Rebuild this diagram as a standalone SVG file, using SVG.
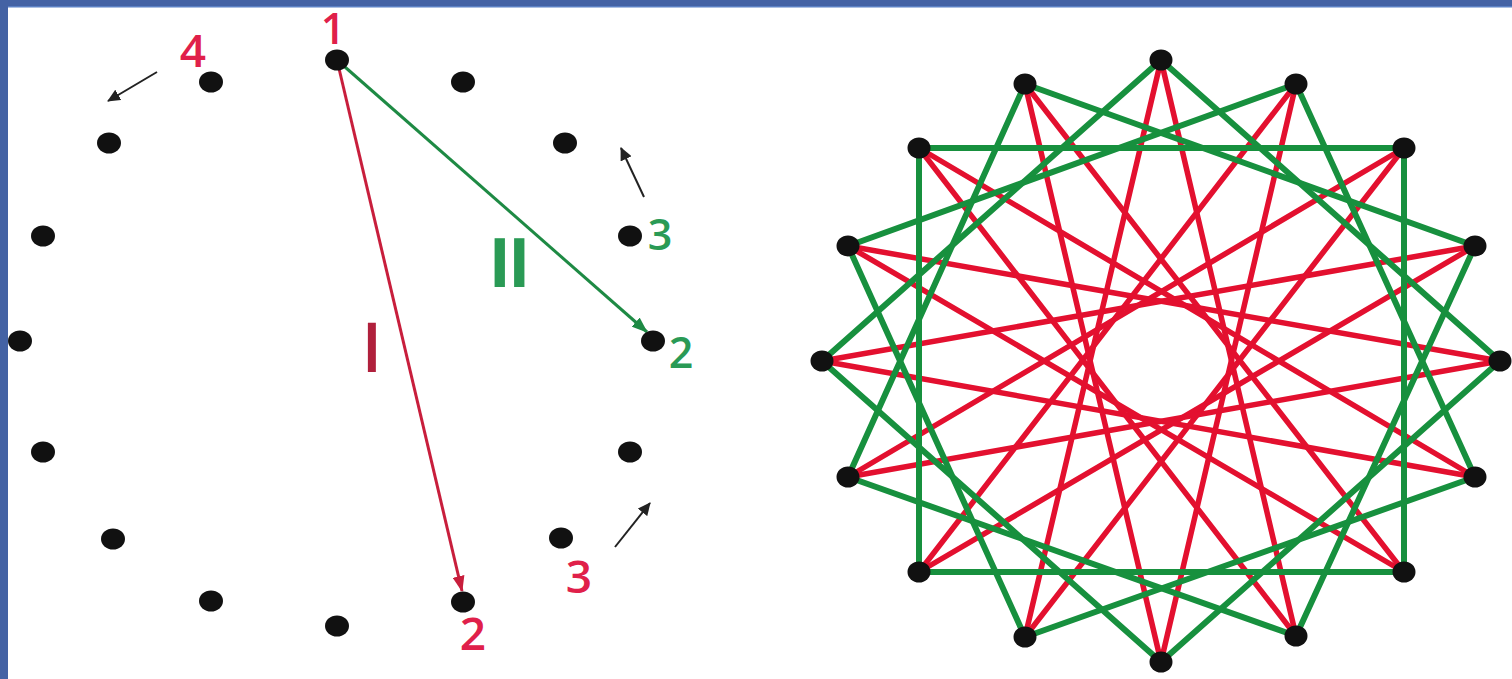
<svg xmlns="http://www.w3.org/2000/svg" width="1512" height="679" viewBox="0 0 1512 679">
<style>
.dot{fill:#111;}
.red{stroke:#e3102f;stroke-width:5.5;fill:none;stroke-linecap:round;}
.grn{stroke:#17903e;stroke-width:6;fill:none;stroke-linecap:round;stroke-linejoin:round;}
.lbl{font-family:"Open Sans","DejaVu Sans",sans-serif;font-weight:600;}
.r{fill:#e0204a;}
.g{fill:#2a9a55;}
.blk{stroke:#222;stroke-width:2;fill:none;}
</style>
<defs>
<marker id="ahBlk" markerUnits="userSpaceOnUse" markerWidth="14" markerHeight="12" refX="12" refY="6" orient="auto"><path d="M0,0 L13,6 L0,12 Z" fill="#222"/></marker>
<marker id="ahRed" markerUnits="userSpaceOnUse" markerWidth="16" markerHeight="12" refX="15" refY="6" orient="auto"><path d="M0,0 L16,6 L0,12 Z" fill="#c81e3c"/></marker>
<marker id="ahGrn" markerUnits="userSpaceOnUse" markerWidth="16" markerHeight="12" refX="15" refY="6" orient="auto"><path d="M0,0 L16,6 L0,12 Z" fill="#1e8a44"/></marker>
</defs>
<rect x="0" y="0" width="1512" height="679" fill="#fff"/>
<rect x="0" y="0" width="1512" height="6" fill="#4462a4"/>
<rect x="0" y="6" width="1512" height="1.5" fill="#5b80c4"/>
<rect x="0" y="0" width="8" height="679" fill="#4462a4"/>

<!-- Left diagram connectors -->
<g id="left-connectors">
<line x1="337" y1="60" x2="462" y2="591" stroke="#c81e3c" stroke-width="3" marker-end="url(#ahRed)"/>
<line x1="337" y1="60" x2="647" y2="332" stroke="#1e8a44" stroke-width="3" marker-end="url(#ahGrn)"/>
<line class="blk" x1="157" y1="72" x2="108" y2="101" marker-end="url(#ahBlk)"/>
<line class="blk" x1="644" y1="197" x2="621" y2="148" marker-end="url(#ahBlk)"/>
<line class="blk" x1="615" y1="547" x2="650" y2="503" marker-end="url(#ahBlk)"/>
</g>

<!-- Left diagram dots -->
<g id="left-dots" class="dot">
<ellipse id="L0" cx="337" cy="60" rx="12" ry="10.5"/>
<ellipse id="L1" cx="463" cy="82" rx="12" ry="10.5"/>
<ellipse id="L2" cx="565" cy="143" rx="12" ry="10.5"/>
<ellipse id="L3" cx="630" cy="236" rx="12" ry="10.5"/>
<ellipse id="L4" cx="653" cy="341" rx="12" ry="10.5"/>
<ellipse id="L5" cx="630" cy="452" rx="12" ry="10.5"/>
<ellipse id="L6" cx="561" cy="538" rx="12" ry="10.5"/>
<ellipse id="L7" cx="463" cy="602" rx="12" ry="10.5"/>
<ellipse id="L8" cx="337" cy="626" rx="12" ry="10.5"/>
<ellipse id="L9" cx="211" cy="601" rx="12" ry="10.5"/>
<ellipse id="L10" cx="113" cy="539" rx="12" ry="10.5"/>
<ellipse id="L11" cx="43" cy="452" rx="12" ry="10.5"/>
<ellipse id="L12" cx="20" cy="341" rx="12" ry="10.5"/>
<ellipse id="L13" cx="43" cy="236" rx="12" ry="10.5"/>
<ellipse id="L14" cx="109" cy="143" rx="12" ry="10.5"/>
<ellipse id="L15" cx="211" cy="82" rx="12" ry="10.5"/>
</g>

<!-- Left labels -->
<g id="left-labels" class="lbl">
<text class="r" x="333" y="44" font-size="43" text-anchor="middle">1</text>
<text class="r" x="193" y="67" font-size="46" text-anchor="middle">4</text>
<text class="g" x="660" y="250" font-size="43" text-anchor="middle">3</text>
<text class="g" x="681" y="368" font-size="43" text-anchor="middle">2</text>
<text class="r" x="579" y="593" font-size="46" text-anchor="middle">3</text>
<text class="r" x="473" y="650" font-size="46" text-anchor="middle">2</text>
<text x="508" y="287" font-size="68" font-weight="bold" letter-spacing="-3" text-anchor="middle" fill="#2a9a55">II</text>
<text x="372" y="372" font-size="68" font-weight="600" text-anchor="middle" fill="#b0203c">I</text>
</g>

<!-- Right diagram connectors -->
<g id="right-connectors">
<g id="red-star">
<line class="red" x1="1161" y1="60" x2="1296" y2="636"/>
<line class="red" x1="1296" y1="84" x2="1161" y2="662"/>
<line class="red" x1="1404" y1="148" x2="1025" y2="637"/>
<line class="red" x1="1475" y1="246" x2="919" y2="572"/>
<line class="red" x1="1500" y1="361" x2="848" y2="477"/>
<line class="red" x1="1475" y1="477" x2="822" y2="361"/>
<line class="red" x1="1404" y1="572" x2="848" y2="246"/>
<line class="red" x1="1296" y1="636" x2="919" y2="148"/>
<line class="red" x1="1161" y1="662" x2="1025" y2="84"/>
<line class="red" x1="1025" y1="637" x2="1161" y2="60"/>
<line class="red" x1="919" y1="572" x2="1296" y2="84"/>
<line class="red" x1="848" y1="477" x2="1404" y2="148"/>
<line class="red" x1="822" y1="361" x2="1475" y2="246"/>
<line class="red" x1="848" y1="246" x2="1500" y2="361"/>
<line class="red" x1="919" y1="148" x2="1475" y2="477"/>
<line class="red" x1="1025" y1="84" x2="1404" y2="572"/>
</g>
<g id="green-squares">
<polygon class="grn" points="1161,60 1500,361 1161,662 822,361"/>
<polygon class="grn" points="1296,84 1475,477 1025,637 848,246"/>
<polygon class="grn" points="1404,148 1404,572 919,572 919,148"/>
<polygon class="grn" points="1475,246 1296,636 848,477 1025,84"/>
</g>
</g>

<!-- Right diagram dots -->
<g id="right-dots" class="dot">
<ellipse id="R0" cx="1161" cy="60" rx="11.5" ry="10.5"/>
<ellipse id="R1" cx="1296" cy="84" rx="11.5" ry="10.5"/>
<ellipse id="R2" cx="1404" cy="148" rx="11.5" ry="10.5"/>
<ellipse id="R3" cx="1475" cy="246" rx="11.5" ry="10.5"/>
<ellipse id="R4" cx="1500" cy="361" rx="11.5" ry="10.5"/>
<ellipse id="R5" cx="1475" cy="477" rx="11.5" ry="10.5"/>
<ellipse id="R6" cx="1404" cy="572" rx="11.5" ry="10.5"/>
<ellipse id="R7" cx="1296" cy="636" rx="11.5" ry="10.5"/>
<ellipse id="R8" cx="1161" cy="662" rx="11.5" ry="10.5"/>
<ellipse id="R9" cx="1025" cy="637" rx="11.5" ry="10.5"/>
<ellipse id="R10" cx="919" cy="572" rx="11.5" ry="10.5"/>
<ellipse id="R11" cx="848" cy="477" rx="11.5" ry="10.5"/>
<ellipse id="R12" cx="822" cy="361" rx="11.5" ry="10.5"/>
<ellipse id="R13" cx="848" cy="246" rx="11.5" ry="10.5"/>
<ellipse id="R14" cx="919" cy="148" rx="11.5" ry="10.5"/>
<ellipse id="R15" cx="1025" cy="84" rx="11.5" ry="10.5"/>
</g>
</svg>
